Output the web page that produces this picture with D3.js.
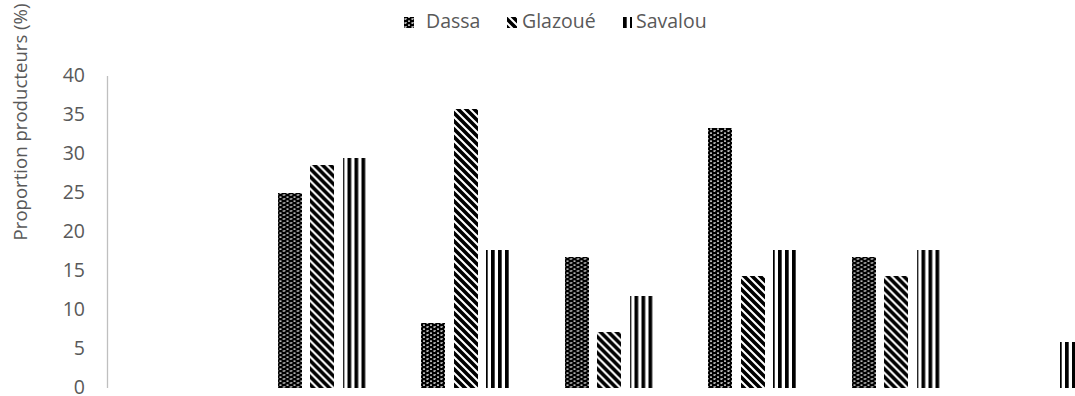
<!DOCTYPE html>
<html><head><meta charset="utf-8">
<script src="https://cdn.jsdelivr.net/npm/d3@7"></script>
<style>body{margin:0;background:#fff} svg{display:block}</style>
</head><body>
<svg id="chart" width="1075" height="396"></svg>
<script>
// Category groups (labels sit below the visible area), series and values in %
const categories = ["1", "2", "3", "4", "5", "6", "7"];
const seriesNames = ["Dassa", "Glazoué", "Savalou"];
const dassa   = [0, 25.00,  8.33, 16.67, 33.33, 16.67, 0];
const glazoue = [0, 28.57, 35.71,  7.14, 14.29, 14.29, 0];
const savalou = [0, 29.41, 17.65, 11.76, 17.65, 17.65, 5.88];
const yTicks = [0, 5, 10, 15, 20, 25, 30, 35, 40];
const yTitle = "Proportion producteurs (%)";

const values = { "Dassa": dassa, "Glazoué": glazoue, "Savalou": savalou };
const patternId = { "Dassa": "pat-dassa", "Glazoué": "pat-glazoue", "Savalou": "pat-savalou" };

const svg = d3.select("#chart");
const textColor = "#595959";
const font = "'Open Sans', sans-serif";

// Hatch patterns
const defs = svg.append("defs");
const p1 = defs.append("pattern").attr("id", "pat-dassa")
  .attr("patternUnits", "userSpaceOnUse").attr("width", 7).attr("height", 4);
p1.append("rect").attr("width", 7).attr("height", 4).attr("fill", "#000");
p1.append("rect").attr("x", 2.3).attr("y", 0.3).attr("width", 1.4).attr("height", 1.7).attr("fill", "#fff");
p1.append("rect").attr("x", 5.5).attr("y", 2.3).attr("width", 1.4).attr("height", 1.5).attr("fill", "#fff");
p1.append("rect").attr("x", 0).attr("y", 2.3).attr("width", 0.8).attr("height", 1).attr("fill", "#fff");

const p2 = defs.append("pattern").attr("id", "pat-glazoue")
  .attr("patternUnits", "userSpaceOnUse").attr("width", 8).attr("height", 8);
p2.append("rect").attr("width", 8).attr("height", 8).attr("fill", "#fff");
p2.append("path").attr("d", "M-2,-2 L10,10 M-2,6 L2,10 M6,-2 L10,2")
  .attr("stroke", "#000").attr("stroke-width", 3.6);

const p3 = defs.append("pattern").attr("id", "pat-savalou")
  .attr("patternUnits", "userSpaceOnUse").attr("width", 7).attr("height", 7);
p3.append("rect").attr("width", 7).attr("height", 7).attr("fill", "#fff");
p3.append("rect").attr("x", 0).attr("width", 3.7).attr("height", 7).attr("fill", "#000");

// Scales
const y = d3.scaleLinear().domain([0, 40]).range([387.5, 75.5]);
const x0 = d3.scaleBand().domain(categories).range([107, 1111.5]);
const x1 = d3.scaleBand().domain(seriesNames).range([0, 89.5]).paddingInner(0.25);
const groupOffset = (x0.bandwidth() - 89.5) / 2;

// Bars
const groups = svg.append("g").selectAll("g")
  .data(categories).join("g")
  .attr("transform", d => `translate(${x0(d) + groupOffset},0)`);

groups.selectAll("rect")
  .data((c, i) => seriesNames.map(s => ({ s, v: values[s][i] })))
  .join("rect")
  .attr("x", d => x1(d.s))
  .attr("width", x1.bandwidth())
  .attr("y", d => y(d.v))
  .attr("height", d => y(0) - y(d.v))
  .attr("fill", d => `url(#${patternId[d.s]})`)
  .attr("shape-rendering", "crispEdges");

// Y axis
const yAxis = svg.append("g").attr("transform", "translate(107,0)")
  .call(d3.axisLeft(y).tickValues(yTicks).tickSize(0).tickSizeOuter(0).tickPadding(22));
yAxis.select(".domain").attr("stroke", "#bfbfbf").attr("stroke-width", 1.3);
yAxis.selectAll("text").attr("fill", textColor).attr("dy", "0.3em")
  .style("font-family", font).style("font-size", "19.5px");

// Y title
svg.append("text")
  .attr("transform", "translate(27,122) rotate(-90)")
  .attr("text-anchor", "middle")
  .attr("fill", textColor).style("font-family", font).style("font-size", "18.6px")
  .text(yTitle);

// Legend
const swatchX = [404, 507, 622];
const labelX = [426, 522, 636];
const legend = svg.append("g");
seriesNames.forEach((s, i) => {
  legend.append("rect").attr("x", swatchX[i]).attr("y", 17).attr("width", 10).attr("height", 11)
    .attr("fill", `url(#${patternId[s]})`).attr("shape-rendering", "crispEdges");
  legend.append("text").attr("x", labelX[i]).attr("y", 28)
    .attr("fill", textColor).style("font-family", font).style("font-size", "19.5px")
    .text(s);
});
</script>
</body></html>
